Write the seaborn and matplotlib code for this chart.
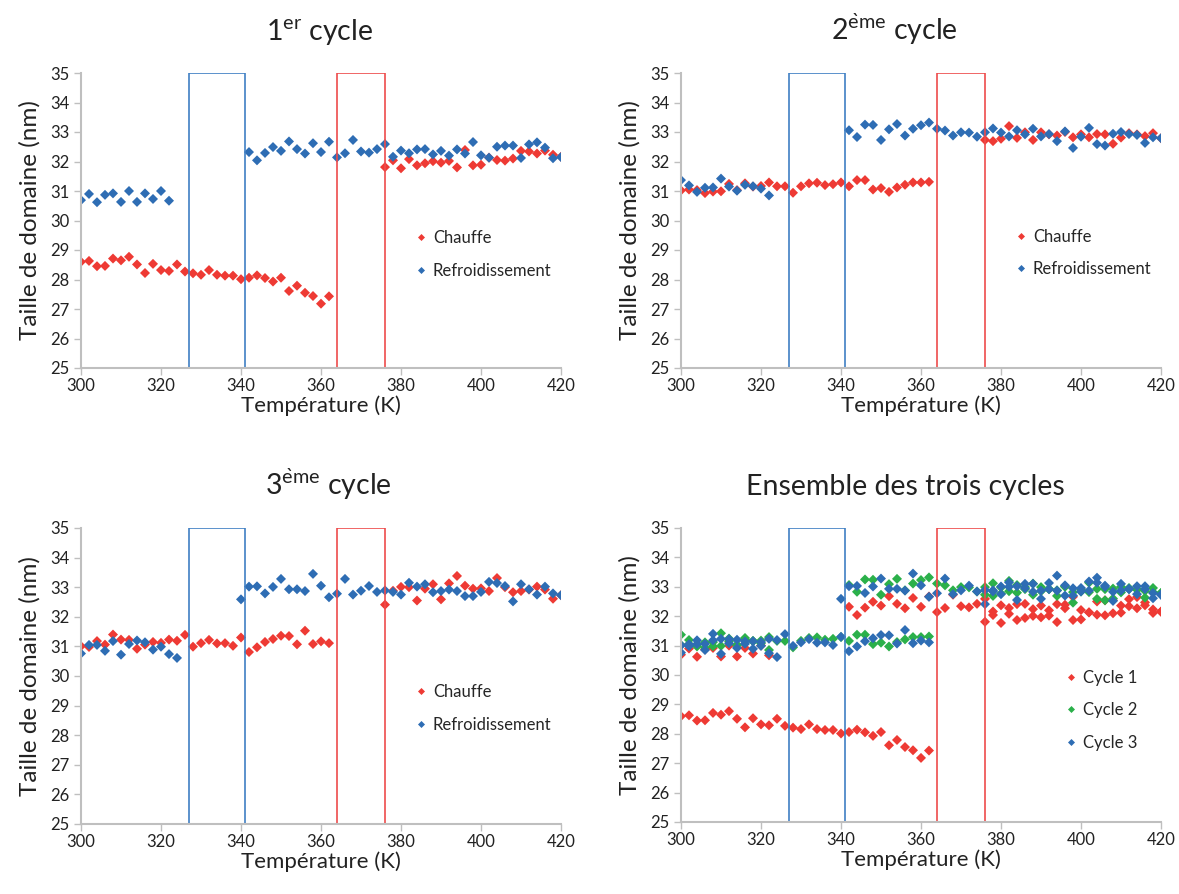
import matplotlib
matplotlib.use("Agg")
import matplotlib.pyplot as plt
from matplotlib.patches import Rectangle
import seaborn as sns
import pandas as pd

# --- temperatures (K) ---
T_CH_LOW = [300, 302, 304, 306, 308, 310, 312, 314, 316, 318, 320, 322, 324, 326, 328, 330,
            332, 334, 336, 338, 340, 342, 344, 346, 348, 350, 352, 354, 356, 358, 360, 362]
T_CH_HIGH = [376, 378, 380, 382, 384, 386, 388, 390, 392, 394, 396, 398, 400, 402, 404, 406,
             408, 410, 412, 414, 416, 418, 420]
T_RE_LOW = [300, 302, 304, 306, 308, 310, 312, 314, 316, 318, 320, 322]
T_RE_HIGH = [342, 344, 346, 348, 350, 352, 354, 356, 358, 360, 362, 364, 366, 368, 370, 372,
             374, 376, 378, 380, 382, 384, 386, 388, 390, 392, 394, 396, 398, 400, 402, 404,
             406, 408, 410, 412, 414, 416, 418, 420]
T_RE3_LOW = [300, 302, 304, 306, 308, 310, 312, 314, 316, 318, 320, 322, 324]
T_RE3_HIGH = [340, 342, 344, 346, 348, 350, 352, 354, 356, 358, 360, 362, 364, 366, 368, 370,
              372, 374, 376, 378, 380, 382, 384, 386, 388, 390, 392, 394, 396, 398, 400, 402,
              404, 406, 408, 410, 412, 414, 416, 418, 420]

# --- cycle 1 (nm) ---
c1_chauffe = [28.60, 28.63, 28.45, 28.46, 28.71, 28.65, 28.77, 28.51, 28.22, 28.53, 28.32, 28.29,
              28.51, 28.27, 28.21, 28.16, 28.32, 28.16, 28.13, 28.13, 28.01, 28.06, 28.14, 28.05,
              27.93, 28.06, 27.61, 27.79, 27.55, 27.44, 27.18, 27.43,
              31.81, 32.04, 31.77, 32.08, 31.87, 31.94, 32.01, 31.96, 32.02, 31.80, 32.39, 31.87,
              31.89, 32.13, 32.05, 32.03, 32.10, 32.36, 32.34, 32.27, 32.37, 32.23, 32.16]
c1_refroid = [30.69, 30.90, 30.62, 30.87, 30.92, 30.63, 31.00, 30.63, 30.92, 30.73, 31.00, 30.67,
              32.32, 32.04, 32.29, 32.49, 32.36, 32.68, 32.42, 32.27, 32.62, 32.32, 32.67,
              32.14, 32.28, 32.73, 32.34, 32.30, 32.42, 32.59, 32.16, 32.37, 32.28, 32.41, 32.42,
              32.24, 32.36, 32.20, 32.41, 32.27, 32.66, 32.21, 32.13, 32.50, 32.54, 32.54, 32.12,
              32.58, 32.65, 32.47, 32.11, 32.15]

# --- cycle 2 (nm) ---
c2_chauffe = [31.02, 31.05, 31.03, 30.93, 30.98, 30.99, 31.24, 31.03, 31.26, 31.15, 31.17, 31.29,
              31.16, 31.16, 30.94, 31.16, 31.26, 31.28, 31.20, 31.23, 31.29, 31.16, 31.37, 31.37,
              31.05, 31.10, 30.97, 31.12, 31.21, 31.29, 31.29, 31.31,
              32.73, 32.69, 32.77, 33.20, 32.80, 32.99, 32.73, 32.99, 32.92, 32.88, 33.00, 32.82,
              32.92, 32.82, 32.93, 32.92, 32.60, 32.81, 32.96, 32.92, 32.86, 32.96, 32.79]
c2_refroid = [31.37, 31.19, 30.97, 31.11, 31.12, 31.42, 31.15, 31.01, 31.21, 31.16, 31.08, 30.85,
              33.06, 32.83, 33.25, 33.24, 32.73, 33.09, 33.27, 32.88, 33.11, 33.23, 33.32,
              33.11, 33.05, 32.88, 32.99, 32.98, 32.84, 32.99, 33.12, 32.98, 32.85, 33.06, 32.92,
              33.11, 32.85, 32.93, 32.69, 33.02, 32.46, 32.84, 33.14, 32.59, 32.54, 32.94, 33.00,
              32.93, 32.90, 32.63, 32.82, 32.79]

# --- cycle 3 (nm) ---
c3_chauffe = [31.01, 30.98, 31.18, 31.06, 31.40, 31.23, 31.22, 30.92, 31.06, 31.15, 31.12, 31.23,
              31.19, 31.39, 30.99, 31.11, 31.22, 31.10, 31.11, 31.02, 31.30, 30.81, 30.97, 31.15,
              31.25, 31.36, 31.35, 31.07, 31.53, 31.08, 31.17, 31.11,
              32.41, 32.88, 33.01, 33.00, 32.55, 32.95, 33.10, 32.59, 33.13, 33.38, 33.05, 32.95,
              32.96, 32.87, 33.31, 33.00, 32.83, 32.87, 32.92, 33.02, 32.92, 32.61, 32.73]
c3_refroid = [30.76, 31.05, 31.05, 30.85, 31.18, 30.72, 31.08, 31.20, 31.14, 30.89, 30.99, 30.74, 30.61,
              32.59, 33.02, 33.03, 32.79, 33.01, 33.28, 32.93, 32.93, 32.87, 33.45, 33.05, 32.66, 32.78,
              33.28, 32.75, 32.88, 33.04, 32.84, 32.89, 32.84, 32.75, 33.15, 33.02, 33.10, 32.83,
              32.87, 32.92, 32.87, 32.70, 32.70, 32.84, 33.18, 33.14, 33.04, 32.52, 33.10, 32.93,
              32.75, 33.02, 32.79, 32.73]

TITLES = ["1$^{\\mathrm{er}}$ cycle", "2$^{\\mathrm{\\grave{e}me}}$ cycle",
          "3$^{\\mathrm{\\grave{e}me}}$ cycle", "Ensemble des trois cycles"]
BLUE_BOX = (327, 341)
RED_BOX = (364, 376)

RED = "#EE3A34"
BLUE = "#2E6DB4"
GREEN = "#2BB04A"

sns.set_style("white")
plt.rcParams["font.family"] = ["Lato", "DejaVu Sans"]
plt.rcParams["mathtext.fontset"] = "custom"
plt.rcParams["mathtext.rm"] = "Lato"
plt.rcParams["mathtext.it"] = "Lato:italic"


def frame(x1, y1, x2, y2, series):
    rows = []
    for name, xs, ys in [(series[0], x1, y1), (series[1], x2, y2)]:
        for x, y in zip(xs, ys):
            rows.append({"T": x, "L": y, "serie": name})
    return pd.DataFrame(rows)


ch_x = T_CH_LOW + T_CH_HIGH
d1 = frame(ch_x, c1_chauffe, T_RE_LOW + T_RE_HIGH, c1_refroid, ["Chauffe", "Refroidissement"])
d2 = frame(ch_x, c2_chauffe, T_RE_LOW + T_RE_HIGH, c2_refroid, ["Chauffe", "Refroidissement"])
d3 = frame(ch_x, c3_chauffe, T_RE3_LOW + T_RE3_HIGH, c3_refroid, ["Chauffe", "Refroidissement"])
d4 = pd.concat([
    d1.assign(serie="Cycle 1"),
    d2.assign(serie="Cycle 2"),
    d3.assign(serie="Cycle 3"),
], ignore_index=True)

fig = plt.figure(figsize=(11.79, 8.94), dpi=100)
W, H = 1179, 894
boxes = [(81, 73, 561, 368), (681, 73, 1161, 368), (81, 528, 561, 824), (681, 528, 1161, 822)]
panels = [
    (d1, {"Chauffe": RED, "Refroidissement": BLUE}, (0.66, 0.385), 0.498),
    (d2, {"Chauffe": RED, "Refroidissement": BLUE}, (0.66, 0.39), 0.445),
    (d3, {"Chauffe": RED, "Refroidissement": BLUE}, (0.66, 0.39), 0.515),
    (d4, {"Cycle 1": RED, "Cycle 2": GREEN, "Cycle 3": BLUE}, (0.764, 0.38), 0.467),
]

for (l, t, r, b), (df, pal, leg_pos, tx), title in zip(boxes, panels, TITLES):
    ax = fig.add_axes([l / W, 1 - b / H, (r - l) / W, (b - t) / H])
    sns.scatterplot(data=df, x="T", y="L", hue="serie", palette=pal, marker="D",
                    s=26, linewidth=0, ax=ax)
    ax.set_xlim(300, 420)
    ax.set_ylim(25, 35)
    ax.set_xticks([300, 320, 340, 360, 380, 400, 420])
    ax.set_yticks(range(25, 36))
    ax.add_patch(Rectangle((BLUE_BOX[0], 25), BLUE_BOX[1] - BLUE_BOX[0], 10, fill=False,
                           ec="#3F7FC4", lw=1.2, zorder=1))
    ax.add_patch(Rectangle((RED_BOX[0], 25), RED_BOX[1] - RED_BOX[0], 10, fill=False,
                           ec="#EE4B4B", lw=1.2, zorder=1))
    for s in ["top", "right"]:
        ax.spines[s].set_visible(False)
    for s in ["left", "bottom"]:
        ax.spines[s].set_color("#BFBFBF")
        ax.spines[s].set_linewidth(1.5)
    ax.tick_params(axis="both", labelsize=12, length=5, width=1, color="#BFBFBF",
                   direction="out", left=True, bottom=True, labelcolor="#222222", pad=3)
    ax.tick_params(axis="x", pad=2)
    ax.set_xlabel("Température (K)", fontsize=16, color="#222222", labelpad=1)
    ax.set_ylabel("Taille de domaine (nm)", fontsize=17.5, color="#222222", labelpad=7)
    ax.set_title(title, fontsize=20.5, color="#222222", pad=24, x=tx)
    ax.legend(loc="center left", bbox_to_anchor=leg_pos, frameon=False, fontsize=12,
              handletextpad=0.2, labelspacing=1.0, markerscale=0.7, handlelength=1.0)

fig.savefig("out.png", dpi=100)
